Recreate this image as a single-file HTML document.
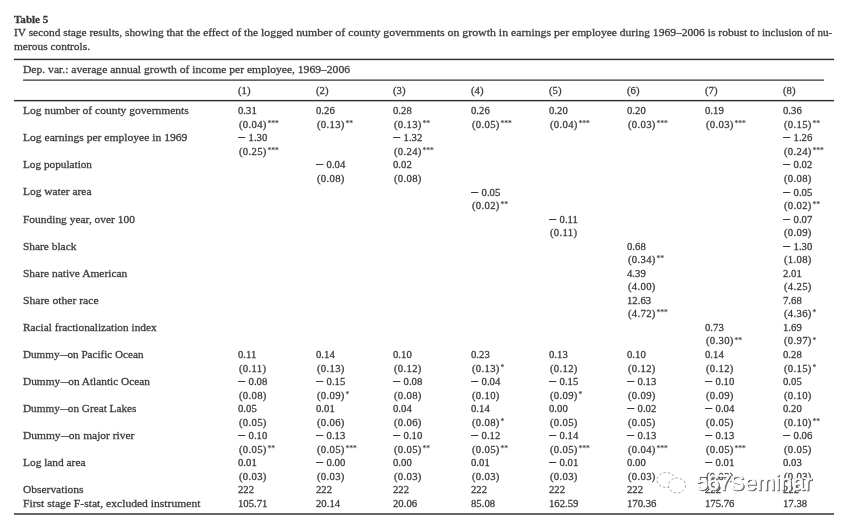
<!DOCTYPE html>
<html><head><meta charset="utf-8"><title>Table 5</title>
<style>
html,body{margin:0;padding:0;background:#fff;}
body{width:853px;height:528px;position:relative;overflow:hidden;font-family:"Liberation Serif",serif;color:#3a3a3a;font-size:10.9px;-webkit-text-stroke:0.27px #3a3a3a;}
#pg{position:absolute;left:0;top:0;width:853px;height:528px;filter:blur(0.5px);}
.t{position:absolute;white-space:nowrap;transform-origin:0 50%;line-height:14px;}
.r{position:absolute;left:0;width:853px;height:13.54px;line-height:13.54px;}
.c{position:absolute;white-space:nowrap;top:0;transform-origin:0 50%;}
.l{top:-0.1px;}
.n{font-size:10.4px;transform:scaleX(1.03);}
.s{letter-spacing:0.3px;margin-left:0.8px;}
.d{display:inline-block;transform:scaleX(0.72);transform-origin:0 50%;margin-right:-3.1px;}
.m{display:inline-block;transform:scaleX(1.32);transform-origin:0 50%;margin-left:0.3px;margin-right:4.1px;letter-spacing:0;-webkit-text-stroke:0.5px #3a3a3a;}
sup{font-size:7.3px;line-height:0;vertical-align:1.9px;letter-spacing:0px;margin-left:0.8px;-webkit-text-stroke:0.12px #3a3a3a;}
.rule{position:absolute;background:#3a3a3a;height:1.7px;}
#wm{position:absolute;left:652.5px;top:460.5px;}
</style></head><body><div id="pg">
<div class="t" style="left:14px;top:12.4px;font-weight:bold;transform:scaleX(1.0149)">Table 5</div>
<div class="t" style="left:14.1px;top:25.1px;white-space:pre;transform:scaleX(1.0470)">IV second stage results, showing that the effect of the </div><div class="t" style="left:261.0px;top:25.1px;white-space:pre;transform:scaleX(1.0876)">logged number of county governments on growth in earnings per </div><div class="t" style="left:572.2px;top:25.1px;white-space:pre;transform:scaleX(1.0610)">employee during 1969–2006 is robust to </div><div class="t" style="left:762.2px;top:25.1px;white-space:pre;transform:scaleX(1.0179)">inclusion of nu-</div>
<div class="t" style="left:14px;top:38.9px;transform:scaleX(1.0469)">merous controls.</div>
<div class="t" style="left:23px;top:61.8px;transform:scaleX(1.0642)">Dep. var.: average annual growth of income per employee, 1969–2006</div>
<div class="r" style="top:83.83px">
<span class="c n" style="left:238px">(1)</span><span class="c n" style="left:316px">(2)</span><span class="c n" style="left:393px">(3)</span><span class="c n" style="left:471px">(4)</span><span class="c n" style="left:549px">(5)</span><span class="c n" style="left:627px">(6)</span><span class="c n" style="left:705px">(7)</span><span class="c n" style="left:783px">(8)</span>
</div>
<div class="r" style="top:104.28px">
<span class="c l" style="left:23px;transform:scaleX(1.0583)">Log number of county governments</span>
<span class="c n" style="left:238px">0.31</span>
<span class="c n" style="left:316px">0.26</span>
<span class="c n" style="left:393px">0.28</span>
<span class="c n" style="left:471px">0.26</span>
<span class="c n" style="left:549px">0.20</span>
<span class="c n" style="left:627px">0.20</span>
<span class="c n" style="left:705px">0.19</span>
<span class="c n" style="left:783px">0.36</span>
</div>
<div class="r" style="top:117.82px">
<span class="c n s" style="left:238px">(0.04)<sup>***</sup></span>
<span class="c n s" style="left:316px">(0.13)<sup>**</sup></span>
<span class="c n s" style="left:393px">(0.13)<sup>**</sup></span>
<span class="c n s" style="left:471px">(0.05)<sup>***</sup></span>
<span class="c n s" style="left:549px">(0.04)<sup>***</sup></span>
<span class="c n s" style="left:627px">(0.03)<sup>***</sup></span>
<span class="c n s" style="left:705px">(0.03)<sup>***</sup></span>
<span class="c n s" style="left:783px">(0.15)<sup>**</sup></span>
</div>
<div class="r" style="top:131.36px">
<span class="c l" style="left:23px;transform:scaleX(1.0631)">Log earnings per employee in 1969</span>
<span class="c n" style="left:238px"><span class="m">−</span>1.30</span>
<span class="c n" style="left:393px"><span class="m">−</span>1.32</span>
<span class="c n" style="left:783px"><span class="m">−</span>1.26</span>
</div>
<div class="r" style="top:144.90px">
<span class="c n s" style="left:238px">(0.25)<sup>***</sup></span>
<span class="c n s" style="left:393px">(0.24)<sup>***</sup></span>
<span class="c n s" style="left:783px">(0.24)<sup>***</sup></span>
</div>
<div class="r" style="top:158.44px">
<span class="c l" style="left:23px;transform:scaleX(1.0320)">Log population</span>
<span class="c n" style="left:316px"><span class="m">−</span>0.04</span>
<span class="c n" style="left:393px">0.02</span>
<span class="c n" style="left:783px"><span class="m">−</span>0.02</span>
</div>
<div class="r" style="top:171.98px">
<span class="c n s" style="left:316px">(0.08)</span>
<span class="c n s" style="left:393px">(0.08)</span>
<span class="c n s" style="left:783px">(0.08)</span>
</div>
<div class="r" style="top:185.52px">
<span class="c l" style="left:23px;transform:scaleX(1.0488)">Log water area</span>
<span class="c n" style="left:471px"><span class="m">−</span>0.05</span>
<span class="c n" style="left:783px"><span class="m">−</span>0.05</span>
</div>
<div class="r" style="top:199.06px">
<span class="c n s" style="left:471px">(0.02)<sup>**</sup></span>
<span class="c n s" style="left:783px">(0.02)<sup>**</sup></span>
</div>
<div class="r" style="top:212.60px">
<span class="c l" style="left:23px;transform:scaleX(1.0493)">Founding year, over 100</span>
<span class="c n" style="left:549px"><span class="m">−</span>0.11</span>
<span class="c n" style="left:783px"><span class="m">−</span>0.07</span>
</div>
<div class="r" style="top:226.14px">
<span class="c n s" style="left:549px">(0.11)</span>
<span class="c n s" style="left:783px">(0.09)</span>
</div>
<div class="r" style="top:239.68px">
<span class="c l" style="left:23px;transform:scaleX(1.0448)">Share black</span>
<span class="c n" style="left:627px">0.68</span>
<span class="c n" style="left:783px"><span class="m">−</span>1.30</span>
</div>
<div class="r" style="top:253.22px">
<span class="c n s" style="left:627px">(0.34)<sup>**</sup></span>
<span class="c n s" style="left:783px">(1.08)</span>
</div>
<div class="r" style="top:266.76px">
<span class="c l" style="left:23px;transform:scaleX(1.0515)">Share native American</span>
<span class="c n" style="left:627px">4.39</span>
<span class="c n" style="left:783px">2.01</span>
</div>
<div class="r" style="top:280.30px">
<span class="c n s" style="left:627px">(4.00)</span>
<span class="c n s" style="left:783px">(4.25)</span>
</div>
<div class="r" style="top:293.84px">
<span class="c l" style="left:23px;transform:scaleX(1.0686)">Share other race</span>
<span class="c n" style="left:627px">12.63</span>
<span class="c n" style="left:783px">7.68</span>
</div>
<div class="r" style="top:307.38px">
<span class="c n s" style="left:627px">(4.72)<sup>***</sup></span>
<span class="c n s" style="left:783px">(4.36)<sup>*</sup></span>
</div>
<div class="r" style="top:320.92px">
<span class="c l" style="left:23px;transform:scaleX(1.0370)">Racial fractionalization index</span>
<span class="c n" style="left:705px">0.73</span>
<span class="c n" style="left:783px">1.69</span>
</div>
<div class="r" style="top:334.46px">
<span class="c n s" style="left:705px">(0.30)<sup>**</sup></span>
<span class="c n s" style="left:783px">(0.97)<sup>*</sup></span>
</div>
<div class="r" style="top:348.00px">
<span class="c l" style="left:23px;transform:scaleX(1.0221)">Dummy<span class="d">—</span>on Pacific Ocean</span>
<span class="c n" style="left:238px">0.11</span>
<span class="c n" style="left:316px">0.14</span>
<span class="c n" style="left:393px">0.10</span>
<span class="c n" style="left:471px">0.23</span>
<span class="c n" style="left:549px">0.13</span>
<span class="c n" style="left:627px">0.10</span>
<span class="c n" style="left:705px">0.14</span>
<span class="c n" style="left:783px">0.28</span>
</div>
<div class="r" style="top:361.54px">
<span class="c n s" style="left:238px">(0.11)</span>
<span class="c n s" style="left:316px">(0.13)</span>
<span class="c n s" style="left:393px">(0.12)</span>
<span class="c n s" style="left:471px">(0.13)<sup>*</sup></span>
<span class="c n s" style="left:549px">(0.12)</span>
<span class="c n s" style="left:627px">(0.12)</span>
<span class="c n s" style="left:705px">(0.12)</span>
<span class="c n s" style="left:783px">(0.15)<sup>*</sup></span>
</div>
<div class="r" style="top:375.08px">
<span class="c l" style="left:23px;transform:scaleX(1.0398)">Dummy<span class="d">—</span>on Atlantic Ocean</span>
<span class="c n" style="left:238px"><span class="m">−</span>0.08</span>
<span class="c n" style="left:316px"><span class="m">−</span>0.15</span>
<span class="c n" style="left:393px"><span class="m">−</span>0.08</span>
<span class="c n" style="left:471px"><span class="m">−</span>0.04</span>
<span class="c n" style="left:549px"><span class="m">−</span>0.15</span>
<span class="c n" style="left:627px"><span class="m">−</span>0.13</span>
<span class="c n" style="left:705px"><span class="m">−</span>0.10</span>
<span class="c n" style="left:783px">0.05</span>
</div>
<div class="r" style="top:388.62px">
<span class="c n s" style="left:238px">(0.08)</span>
<span class="c n s" style="left:316px">(0.09)<sup>*</sup></span>
<span class="c n s" style="left:393px">(0.08)</span>
<span class="c n s" style="left:471px">(0.10)</span>
<span class="c n s" style="left:549px">(0.09)<sup>*</sup></span>
<span class="c n s" style="left:627px">(0.09)</span>
<span class="c n s" style="left:705px">(0.09)</span>
<span class="c n s" style="left:783px">(0.10)</span>
</div>
<div class="r" style="top:402.16px">
<span class="c l" style="left:23px;transform:scaleX(1.0306)">Dummy<span class="d">—</span>on Great Lakes</span>
<span class="c n" style="left:238px">0.05</span>
<span class="c n" style="left:316px">0.01</span>
<span class="c n" style="left:393px">0.04</span>
<span class="c n" style="left:471px">0.14</span>
<span class="c n" style="left:549px">0.00</span>
<span class="c n" style="left:627px"><span class="m">−</span>0.02</span>
<span class="c n" style="left:705px"><span class="m">−</span>0.04</span>
<span class="c n" style="left:783px">0.20</span>
</div>
<div class="r" style="top:415.70px">
<span class="c n s" style="left:238px">(0.05)</span>
<span class="c n s" style="left:316px">(0.06)</span>
<span class="c n s" style="left:393px">(0.06)</span>
<span class="c n s" style="left:471px">(0.08)<sup>*</sup></span>
<span class="c n s" style="left:549px">(0.05)</span>
<span class="c n s" style="left:627px">(0.05)</span>
<span class="c n s" style="left:705px">(0.05)</span>
<span class="c n s" style="left:783px">(0.10)<sup>**</sup></span>
</div>
<div class="r" style="top:429.24px">
<span class="c l" style="left:23px;transform:scaleX(1.0530)">Dummy<span class="d">—</span>on major river</span>
<span class="c n" style="left:238px"><span class="m">−</span>0.10</span>
<span class="c n" style="left:316px"><span class="m">−</span>0.13</span>
<span class="c n" style="left:393px"><span class="m">−</span>0.10</span>
<span class="c n" style="left:471px"><span class="m">−</span>0.12</span>
<span class="c n" style="left:549px"><span class="m">−</span>0.14</span>
<span class="c n" style="left:627px"><span class="m">−</span>0.13</span>
<span class="c n" style="left:705px"><span class="m">−</span>0.13</span>
<span class="c n" style="left:783px"><span class="m">−</span>0.06</span>
</div>
<div class="r" style="top:442.78px">
<span class="c n s" style="left:238px">(0.05)<sup>**</sup></span>
<span class="c n s" style="left:316px">(0.05)<sup>***</sup></span>
<span class="c n s" style="left:393px">(0.05)<sup>**</sup></span>
<span class="c n s" style="left:471px">(0.05)<sup>**</sup></span>
<span class="c n s" style="left:549px">(0.05)<sup>***</sup></span>
<span class="c n s" style="left:627px">(0.04)<sup>***</sup></span>
<span class="c n s" style="left:705px">(0.05)<sup>***</sup></span>
<span class="c n s" style="left:783px">(0.05)</span>
</div>
<div class="r" style="top:456.32px">
<span class="c l" style="left:23px;transform:scaleX(1.0438)">Log land area</span>
<span class="c n" style="left:238px">0.01</span>
<span class="c n" style="left:316px"><span class="m">−</span>0.00</span>
<span class="c n" style="left:393px">0.00</span>
<span class="c n" style="left:471px">0.01</span>
<span class="c n" style="left:549px"><span class="m">−</span>0.01</span>
<span class="c n" style="left:627px">0.00</span>
<span class="c n" style="left:705px"><span class="m">−</span>0.01</span>
<span class="c n" style="left:783px">0.03</span>
</div>
<div class="r" style="top:469.86px">
<span class="c n s" style="left:238px">(0.03)</span>
<span class="c n s" style="left:316px">(0.03)</span>
<span class="c n s" style="left:393px">(0.03)</span>
<span class="c n s" style="left:471px">(0.03)</span>
<span class="c n s" style="left:549px">(0.03)</span>
<span class="c n s" style="left:627px">(0.03)</span>
<span class="c n s" style="left:705px">(0.03)</span>
<span class="c n s" style="left:783px">(0.03)</span>
</div>
<div class="r" style="top:483.40px">
<span class="c l" style="left:23px;transform:scaleX(1.0527)">Observations</span>
<span class="c n" style="left:238px">222</span>
<span class="c n" style="left:316px">222</span>
<span class="c n" style="left:393px">222</span>
<span class="c n" style="left:471px">222</span>
<span class="c n" style="left:549px">222</span>
<span class="c n" style="left:627px">222</span>
<span class="c n" style="left:705px">222</span>
<span class="c n" style="left:783px">222</span>
</div>
<div class="r" style="top:496.94px">
<span class="c l" style="left:23px;transform:scaleX(1.0644)">First stage F-stat, excluded instrument</span>
<span class="c n" style="left:238px">105.71</span>
<span class="c n" style="left:316px">20.14</span>
<span class="c n" style="left:393px">20.06</span>
<span class="c n" style="left:471px">85.08</span>
<span class="c n" style="left:549px">162.59</span>
<span class="c n" style="left:627px">170.36</span>
<span class="c n" style="left:705px">175.76</span>
<span class="c n" style="left:783px">17.38</span>
</div>
<svg id="rules" width="853" height="528" viewBox="0 0 853 528" style="position:absolute;left:0;top:0">
<rect x="14" y="58.7" width="820" height="1.45" fill="#333"/>
<rect x="23" y="79.5" width="801" height="1.25" fill="#333"/>
<rect x="14" y="99.9" width="820" height="1.45" fill="#333"/>
<rect x="14" y="513.25" width="820" height="1.5" fill="#333"/>
</svg>
<svg id="wm" width="170" height="50" viewBox="0 0 170 50">
<defs><filter id="sh" x="-10%" y="-10%" width="120%" height="130%"><feGaussianBlur stdDeviation="0.35"/></filter></defs>
<ellipse cx="13" cy="19" rx="9" ry="7.5" fill="#fff" stroke="#999" stroke-width="0.9" stroke-dasharray="2.5 2"/>
<ellipse cx="24" cy="24.5" rx="8.5" ry="7.5" fill="#fff" stroke="#999" stroke-width="0.9" stroke-dasharray="2.5 2"/>
<text x="44.3" y="30.2" font-family="Liberation Sans, sans-serif" font-size="21.5" fill="#666" stroke="#666" stroke-width="0.7" filter="url(#sh)"><tspan letter-spacing="-0.7">567</tspan><tspan letter-spacing="0.3">Seminar</tspan></text>
<text x="43" y="29" font-family="Liberation Sans, sans-serif" font-size="21.5" fill="#fff" stroke="#fff" stroke-width="0.7" fill-opacity="0.97"><tspan letter-spacing="-0.7">567</tspan><tspan letter-spacing="0.3">Seminar</tspan></text>
</svg>
</div></body></html>
